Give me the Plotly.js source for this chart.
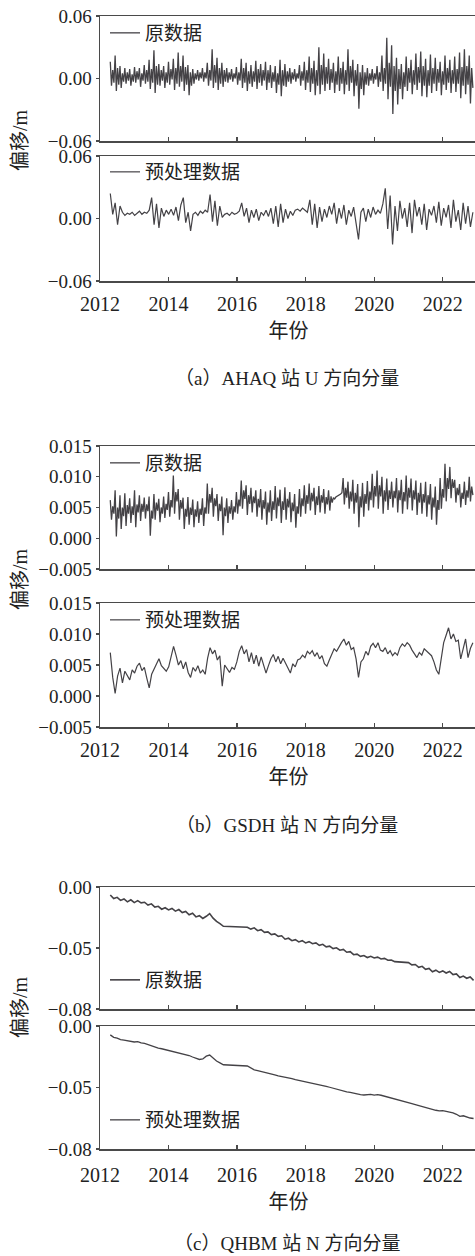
<!DOCTYPE html>
<html>
<head>
<meta charset="utf-8">
<script src="https://cdn.plot.ly/plotly-3.0.1.min.js"></script>
<style>
html,body{margin:0;padding:0;overflow:hidden;background:#fff;}
#chart{width:478px;height:1256px;}
</style>
</head>
<body>
<div id="chart"></div>
<script>
// ---------- data ----------
// regular sampling grid for the four noisy series (time axis only)
const noisyStart = 2012.3, noisyEnd = 2022.88;

// (a) AHAQ U component, raw
const aRaw = [
 0.016,-0.007,0.008,-0.004, 0.022,-0.012,0.010,-0.006, 0.012,-0.009,0.005,-0.003, 0.010,-0.005,0.006,-0.002,
 0.009,-0.007,0.004,-0.003, 0.011,-0.004,0.007,-0.001, 0.010,-0.008,0.005,-0.002, 0.013,-0.005,0.008,-0.003,
 0.018,-0.010,0.009,-0.004, 0.027,-0.014,0.012,-0.006, 0.014,-0.007,0.008,-0.002, 0.012,-0.009,0.006,-0.004,
 0.016,-0.006,0.009,-0.001, 0.019,-0.011,0.010,-0.005, 0.025,-0.008,0.012,-0.003, 0.022,-0.012,0.011,-0.006,
 0.013,-0.016,0.006,-0.007, 0.009,-0.005,0.005,-0.001, 0.008,-0.002,0.006,0.000, 0.010,-0.003,0.006,0.000,
 0.015,-0.007,0.008,-0.002, 0.028,-0.009,0.013,-0.004, 0.020,-0.011,0.010,-0.005, 0.015,-0.008,0.008,-0.003,
 0.010,-0.004,0.006,-0.001, 0.009,-0.003,0.005,0.000, 0.011,-0.006,0.006,-0.002, 0.019,-0.009,0.010,-0.004,
 0.015,-0.012,0.007,-0.005, 0.013,-0.008,0.007,-0.003, 0.017,-0.010,0.009,-0.004, 0.014,-0.007,0.008,-0.002,
 0.016,-0.011,0.008,-0.004, 0.013,-0.009,0.006,-0.003, 0.012,-0.014,0.005,-0.006, 0.018,-0.017,0.008,-0.007,
 0.014,-0.008,0.007,-0.003, 0.010,-0.005,0.006,-0.001, 0.009,-0.003,0.005,0.000, 0.013,-0.007,0.007,-0.002,
 0.016,-0.011,0.008,-0.004, 0.021,-0.013,0.010,-0.005, 0.017,-0.016,0.008,-0.007, 0.030,-0.015,0.013,-0.006,
 0.024,-0.012,0.011,-0.005, 0.019,-0.011,0.009,-0.004, 0.015,-0.014,0.007,-0.006, 0.021,-0.012,0.010,-0.005,
 0.016,-0.015,0.008,-0.006, 0.028,-0.012,0.012,-0.004, 0.018,-0.017,0.008,-0.007, 0.014,-0.029,0.006,-0.010,
 0.013,-0.016,0.006,-0.006, 0.010,-0.007,0.005,-0.002, 0.009,-0.005,0.005,-0.001, 0.012,-0.008,0.006,-0.003,
 0.022,-0.012,0.010,-0.005, 0.039,-0.020,0.015,-0.008, 0.032,-0.034,0.012,-0.012, 0.020,-0.025,0.009,-0.010,
 0.014,-0.020,0.006,-0.008, 0.021,-0.012,0.010,-0.004, 0.018,-0.015,0.008,-0.006, 0.024,-0.011,0.011,-0.004,
 0.026,-0.017,0.012,-0.007, 0.019,-0.018,0.008,-0.007, 0.023,-0.014,0.010,-0.005, 0.020,-0.012,0.009,-0.004,
 0.016,-0.016,0.007,-0.006, 0.022,-0.011,0.010,-0.004, 0.018,-0.014,0.008,-0.005, 0.021,-0.013,0.009,-0.005,
 0.025,-0.019,0.011,-0.007, 0.028,-0.015,0.012,-0.006, 0.022,-0.024,0.010,-0.009
];
// (a) AHAQ U component, preprocessed
const aPre = [
 0.024, 0.004, 0.015,-0.006, 0.012,
 0.006, 0.003, 0.005, 0.004, 0.006, 0.003, 0.005, 0.007, 0.004, 0.006, 0.005, 0.008,
 0.020,-0.006, 0.014,-0.009, 0.010, 0.002,
 0.008, 0.004, 0.009, 0.003, 0.011,-0.002, 0.013, 0.020,-0.004, 0.006,-0.012,
 0.004, 0.006, 0.003, 0.007, 0.005, 0.008, 0.006,
 0.023,-0.003, 0.017,-0.007, 0.012, 0.001,
 0.004, 0.005, 0.003, 0.006, 0.004, 0.005, 0.007,
 0.015, 0.002, 0.010,-0.004, 0.008, 0.001, 0.009,-0.002, 0.006, 0.003, 0.008,
 0.002, 0.010,-0.005, 0.012,-0.008, 0.014,-0.004, 0.009, 0.000, 0.007, 0.003,
 0.008, 0.009, 0.007, 0.010, 0.008, 0.006,
 0.018,-0.006, 0.014,-0.009, 0.011,-0.003, 0.009, 0.001, 0.012,
 0.004, 0.015,-0.005, 0.010, 0.000, 0.013,-0.006, 0.008, 0.002, 0.011,-0.004,
 -0.020,
 0.006, 0.010,-0.003, 0.009, 0.001, 0.011, 0.004, 0.008, 0.005,
 0.014, 0.029,-0.010, 0.022,-0.025,
 0.012,-0.012, 0.017, 0.000, 0.010,-0.008, 0.015,-0.014, 0.018, 0.002, 0.011,-0.006, 0.014,-0.011, 0.009, 0.003, 0.012,
 -0.004, 0.016,-0.007, 0.010, 0.001, 0.013,-0.009, 0.018,-0.003, 0.008,-0.011, 0.015,-0.005, 0.012,-0.008, 0.006
];
// (b) GSDH N component, raw
const bRaw = [
 0.0062,0.0030,0.0052,0.0040, 0.0078,0.0003,0.0050,0.0032, 0.0070,0.0015,0.0050,0.0036, 0.0073,0.0020,0.0054,0.0040,
 0.0065,0.0025,0.0052,0.0038, 0.0078,0.0018,0.0055,0.0042, 0.0070,0.0028,0.0056,0.0043, 0.0066,0.0032,0.0055,0.0044,
 0.0068,0.0004,0.0045,0.0032, 0.0072,0.0030,0.0058,0.0045, 0.0064,0.0026,0.0050,0.0040, 0.0068,0.0033,0.0056,0.0046,
 0.0075,0.0035,0.0062,0.0050, 0.0102,0.0040,0.0075,0.0060, 0.0080,0.0030,0.0062,0.0048, 0.0066,0.0015,0.0048,0.0035,
 0.0067,0.0022,0.0050,0.0038, 0.0063,0.0018,0.0047,0.0035, 0.0060,0.0025,0.0048,0.0038, 0.0065,0.0020,0.0050,0.0040,
 0.0089,0.0040,0.0072,0.0058, 0.0082,0.0035,0.0065,0.0052, 0.0072,0.0028,0.0056,0.0044, 0.0068,0.0005,0.0050,0.0036,
 0.0065,0.0025,0.0052,0.0040, 0.0062,0.0030,0.0052,0.0042, 0.0075,0.0040,0.0063,0.0052, 0.0094,0.0048,0.0078,0.0064,
 0.0086,0.0038,0.0070,0.0056, 0.0082,0.0042,0.0068,0.0057, 0.0078,0.0035,0.0064,0.0050, 0.0080,0.0030,0.0062,0.0048,
 0.0076,0.0022,0.0058,0.0042, 0.0078,0.0028,0.0060,0.0046, 0.0085,0.0032,0.0066,0.0052, 0.0079,0.0025,0.0060,0.0046,
 0.0083,0.0030,0.0064,0.0050, 0.0075,0.0026,0.0058,0.0044, 0.0072,0.0017,0.0052,0.0040, 0.0080,0.0035,0.0065,0.0052,
 0.0086,0.0040,0.0070,0.0056, 0.0089,0.0045,0.0074,0.0060, 0.0082,0.0038,0.0068,0.0054, 0.0085,0.0042,0.0070,0.0058,
 0.0080,0.0040,0.0067,0.0055, 0.0078,0.0045,0.0068,0.0058, 0.0066,0.0064,0.0067,0.0068, 0.0070,0.0071,0.0072,0.0074,
 0.0098,0.0055,0.0082,0.0066, 0.0092,0.0048,0.0076,0.0060, 0.0095,0.0040,0.0074,0.0058, 0.0088,0.0018,0.0068,0.0050,
 0.0090,0.0035,0.0072,0.0056, 0.0093,0.0045,0.0076,0.0062, 0.0105,0.0050,0.0085,0.0068, 0.0110,0.0048,0.0086,0.0068,
 0.0100,0.0040,0.0078,0.0060, 0.0097,0.0046,0.0078,0.0064, 0.0092,0.0050,0.0077,0.0065, 0.0098,0.0042,0.0078,0.0062,
 0.0095,0.0040,0.0075,0.0060, 0.0102,0.0047,0.0082,0.0066, 0.0097,0.0045,0.0078,0.0063, 0.0094,0.0038,0.0074,0.0058,
 0.0090,0.0040,0.0072,0.0058, 0.0092,0.0035,0.0070,0.0055, 0.0088,0.0030,0.0066,0.0050, 0.0084,0.0022,0.0062,0.0046,
 0.0098,0.0048,0.0080,0.0066, 0.0121,0.0060,0.0098,0.0080, 0.0116,0.0065,0.0096,0.0082, 0.0095,0.0058,0.0082,0.0070,
 0.0088,0.0050,0.0074,0.0064, 0.0092,0.0054,0.0078,0.0066, 0.0100,0.0060,0.0084,0.0070
];
// (b) GSDH N component, preprocessed
const bPre = [
 0.0070,0.0030,0.0004,0.0032,0.0045,0.0021,0.0040,0.0033,0.0026,0.0042,
 0.0037,0.0048,0.0053,0.0041,0.0046,0.0029,0.0013,0.0035,0.0044,0.0052,
 0.0060,0.0049,0.0045,0.0040,0.0047,0.0062,0.0080,0.0066,0.0050,0.0057,
 0.0044,0.0055,0.0038,0.0030,0.0046,0.0040,0.0049,0.0037,0.0042,0.0035,
 0.0061,0.0078,0.0068,0.0074,0.0058,0.0065,0.0016,0.0050,0.0043,0.0038,
 0.0046,0.0043,0.0055,0.0072,0.0081,0.0068,0.0075,0.0055,0.0070,0.0052,
 0.0066,0.0048,0.0063,0.0050,0.0037,0.0049,0.0060,0.0067,0.0055,0.0064,
 0.0052,0.0061,0.0054,0.0045,0.0037,0.0052,0.0047,0.0058,0.0060,0.0066,
 0.0062,0.0072,0.0068,0.0073,0.0064,0.0070,0.0060,0.0065,0.0052,0.0048,
 0.0058,0.0066,0.0076,0.0072,0.0080,0.0086,0.0092,0.0082,0.0088,0.0075,
 0.0078,0.0060,0.0030,0.0055,0.0060,0.0072,0.0066,0.0080,0.0085,0.0078,
 0.0086,0.0074,0.0072,0.0078,0.0068,0.0073,0.0065,0.0070,0.0066,0.0078,
 0.0084,0.0080,0.0086,0.0082,0.0074,0.0068,0.0062,0.0070,0.0066,0.0076,
 0.0072,0.0068,0.0065,0.0055,0.0042,0.0035,0.0060,0.0086,0.0098,0.0110,
 0.0092,0.0100,0.0088,0.0090,0.0060,0.0075,0.0092,0.0062,0.0077,0.0086
];
// (c) QHBM N component: sampling segments (data gaps 2015.6-2016.3, 2020.6-2021.0)
const cSegments = [[2012.3, 2015.6], [2016.3, 2020.6], [2021.0, 2022.9]];
const cRaw = [
 -0.0065,-0.0095,-0.0085,-0.0110,-0.0098,-0.0122,-0.0105,-0.0128,-0.0112,-0.0130,
 -0.0125,-0.0148,-0.0138,-0.0165,-0.0158,-0.0182,-0.0170,-0.0188,-0.0176,-0.0198,
 -0.0185,-0.0210,-0.0200,-0.0228,-0.0215,-0.0245,-0.0235,-0.0258,-0.0240,-0.0218,
 -0.0255,-0.0282,-0.0300,-0.0322,
 -0.0330,-0.0345,-0.0335,-0.0358,-0.0350,-0.0372,-0.0368,-0.0390,-0.0385,-0.0405,
 -0.0400,-0.0428,-0.0420,-0.0440,-0.0432,-0.0450,-0.0440,-0.0458,-0.0448,-0.0465,
 -0.0458,-0.0478,-0.0470,-0.0490,-0.0485,-0.0505,-0.0498,-0.0518,-0.0512,-0.0535,
 -0.0530,-0.0555,-0.0550,-0.0568,-0.0562,-0.0578,-0.0568,-0.0582,-0.0575,-0.0590,
 -0.0585,-0.0600,-0.0598,-0.0612,
 -0.0620,-0.0638,-0.0635,-0.0658,-0.0650,-0.0675,-0.0668,-0.0695,-0.0682,-0.0700,
 -0.0688,-0.0705,-0.0692,-0.0718,-0.0712,-0.0742,-0.0730,-0.0748,-0.0738,-0.0765
];
const cPre = [
 -0.0072,-0.0092,-0.0098,-0.0110,-0.0115,-0.0120,-0.0126,-0.0130,-0.0127,-0.0138,
 -0.0142,-0.0152,-0.0160,-0.0172,-0.0180,-0.0185,-0.0192,-0.0198,-0.0205,-0.0212,
 -0.0218,-0.0225,-0.0230,-0.0240,-0.0252,-0.0262,-0.0272,-0.0268,-0.0245,-0.0236,
 -0.0262,-0.0285,-0.0300,-0.0315,
 -0.0325,-0.0342,-0.0356,-0.0362,-0.0370,-0.0380,-0.0386,-0.0392,-0.0398,-0.0405,
 -0.0410,-0.0418,-0.0424,-0.0428,-0.0436,-0.0442,-0.0448,-0.0452,-0.0458,-0.0462,
 -0.0466,-0.0474,-0.0482,-0.0490,-0.0498,-0.0506,-0.0512,-0.0520,-0.0528,-0.0535,
 -0.0540,-0.0548,-0.0552,-0.0558,-0.0561,-0.0560,-0.0556,-0.0562,-0.0558,-0.0563,
 -0.0570,-0.0578,-0.0585,-0.0595,
 -0.0625,-0.0632,-0.0640,-0.0648,-0.0655,-0.0665,-0.0672,-0.0680,-0.0685,-0.0690,
 -0.0688,-0.0694,-0.0698,-0.0706,-0.0718,-0.0735,-0.0730,-0.0742,-0.0748,-0.0752
];

const seriesNames = ['原数据', '预处理数据'];
const yearTicks = [2012, 2014, 2016, 2018, 2020, 2022];
const captions = ['（a）AHAQ 站 U 方向分量', '（b）GSDH 站 N 方向分量', '（c）QHBM 站 N 方向分量'];
const yTitle = '偏移/m';
const xTitle = '年份';

// ---------- build ----------
function grid(n) {
  const out = [];
  for (let i = 0; i < n; i++) out.push(noisyStart + i * (noisyEnd - noisyStart) / (n - 1));
  return out;
}
const cYears = [];
cSegments.forEach(([s, e]) => { for (let k = 0; Math.round((s + k * 0.1) * 10) <= Math.round(e * 10); k++) cYears.push(+(s + k * 0.1).toFixed(2)); });

const W = 478, H = 1256;
const FONT = 'Liberation Serif, Noto Sans CJK SC, serif';
const CJK = 'Noto Sans CJK SC, sans-serif';
const LINE = '#444246', AX = '#4a4a4a';
const py = p => 1 - p / H;
// panel pixel extents (top, bottom)
const panels = [[16, 141], [156, 281], [446, 569], [603, 727], [887, 1009], [1026, 1149]];
const legendY = [33, 172, 463, 620, 980, 1120];
const labelStandoff = [0, 4, 0, 4, 0, 7];
const lineWidths = [1.3, 1.2, 1.3, 1.2, 1.6, 1.3];
const ySpecs = [
  {range: [-0.06, 0.06], tickvals: [-0.06, 0, 0.06], fmt: '.2f'},
  {range: [-0.06, 0.06], tickvals: [-0.06, 0, 0.06], fmt: '.2f'},
  {range: [-0.005, 0.015], tickvals: [-0.005, 0, 0.005, 0.01, 0.015], fmt: '.3f'},
  {range: [-0.005, 0.015], tickvals: [-0.005, 0, 0.005, 0.01, 0.015], fmt: '.3f'},
  {range: [-0.1, 0], tickvals: [0, -0.05, -0.1], ticktext: ['0.00', '\u22120.05', '\u22120.08']},
  {range: [-0.1, 0], tickvals: [0, -0.05, -0.1], ticktext: ['0.00', '\u22120.05', '\u22120.08']}
];
const xs = [grid(aRaw.length), grid(aPre.length), grid(bRaw.length), grid(bPre.length), cYears, cYears];
const ys = [aRaw, aPre, bRaw, bPre, cRaw, cPre];

const traces = [];
const layout = {
  width: W, height: H, margin: {l: 100, r: 1, t: 0, b: 0},
  paper_bgcolor: '#fff', plot_bgcolor: '#fff',
  font: {family: FONT, size: 20, color: '#222'},
  annotations: [], showlegend: true
};
for (let p = 0; p < 6; p++) {
  const n = p === 0 ? '' : String(p + 1);
  const lg = p === 0 ? 'legend' : 'legend' + (p + 1);
  traces.push({
    type: 'scatter', mode: 'lines', x: xs[p], y: ys[p],
    xaxis: 'x' + n, yaxis: 'y' + n, name: seriesNames[p % 2], legend: lg,
    line: {color: LINE, width: lineWidths[p]}, hoverinfo: 'skip'
  });
  const bottom = p % 2 === 1;
  layout['xaxis' + n] = {
    anchor: 'y' + n, domain: [0, 1], range: [2012, 2023],
    tickvals: yearTicks, ticks: 'inside', ticklen: 4, tickcolor: AX, tickwidth: 1.2,
    showticklabels: bottom, tickfont: {family: FONT, size: 20, color: '#222'},
    ticklabelstandoff: labelStandoff[p],
    showline: true, mirror: true, linecolor: AX, linewidth: 1.5,
    showgrid: false, zeroline: false, fixedrange: true,
    title: bottom ? {text: xTitle, font: {family: CJK, size: 20, color: '#222'}, standoff: 10} : {text: ''}
  };
  const s = ySpecs[p];
  layout['yaxis' + n] = {
    anchor: 'x' + n, domain: [py(panels[p][1]), py(panels[p][0])], range: s.range,
    tickvals: s.tickvals, ticktext: s.ticktext, tickformat: s.fmt,
    ticks: 'outside', ticklen: 3, tickcolor: AX, tickwidth: 1.2,
    tickfont: {family: FONT, size: 19, color: '#222'},
    showline: true, mirror: true, linecolor: AX, linewidth: 1.5,
    showgrid: false, zeroline: false, fixedrange: true
  };
  layout[lg] = {
    x: (105 - 100) / 377, y: py(legendY[p]), xanchor: 'left', yanchor: 'middle',
    bgcolor: 'rgba(0,0,0,0)', borderwidth: 0, itemwidth: 30,
    font: {family: CJK, size: 19, color: '#222'}
  };
}
// y titles (one per group) and captions
const groupTitleY = [140, 579, 1007];
const captionY = [378, 825, 1243];
for (let g = 0; g < 3; g++) {
  layout.annotations.push({
    text: yTitle, xref: 'paper', yref: 'paper', x: (20 - 100) / 377, y: py(groupTitleY[g]),
    xanchor: 'center', yanchor: 'middle', textangle: -90, showarrow: false,
    font: {family: FONT, size: 20, color: '#222'}
  });
  layout.annotations.push({
    text: captions[g], xref: 'paper', yref: 'paper', x: (287 - 100) / 377, y: py(captionY[g]),
    xanchor: 'center', yanchor: 'middle', showarrow: false,
    font: {family: FONT, size: 19, color: '#222'}
  });
}
Plotly.newPlot('chart', traces, layout, {staticPlot: true, displayModeBar: false});
</script>
</body>
</html>
